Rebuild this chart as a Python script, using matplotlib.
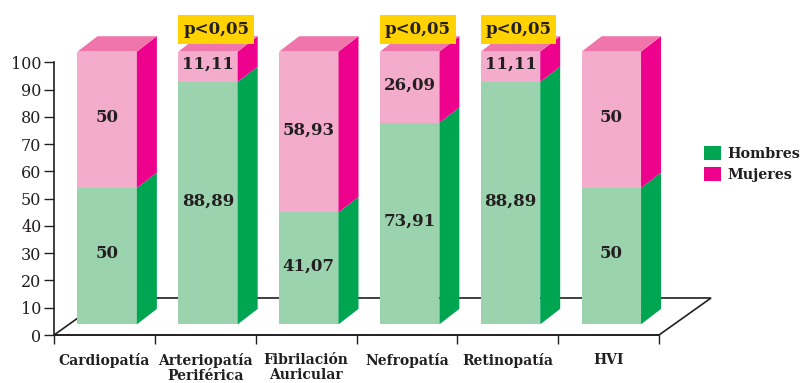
import matplotlib
matplotlib.use("Agg")
import matplotlib.pyplot as plt
from matplotlib.patches import Polygon, Rectangle, Patch

categories = ["Cardiopatía", "Arteriopatía\nPeriférica", "Fibrilación\nAuricular",
              "Nefropatía", "Retinopatía", "HVI"]
hombres = [50, 88.89, 41.07, 73.91, 88.89, 50]
mujeres = [50, 11.11, 58.93, 26.09, 11.11, 50]
significativo = [False, True, False, True, True, False]
yticks = [0, 10, 20, 30, 40, 50, 60, 70, 80, 90, 100]
series_names = ["Hombres", "Mujeres"]
p_text = "p<0,05"

# colours
GREEN_FRONT = "#9bd3ae"
GREEN_SIDE = "#00a551"
PINK_FRONT = "#f4accd"
PINK_SIDE = "#ec008c"
PINK_TOP = "#f075aa"
INK = "#231f20"
YELLOW = "#ffd200"

plt.rcParams["font.family"] = ["DejaVu Serif"]

W, H = 801, 383
fig = plt.figure(figsize=(W / 100, H / 100), dpi=100)
ax = fig.add_axes([54 / W, 48 / H, 605 / W, 272.7 / H])
ax.set_xlim(0, len(categories))
ax.set_ylim(0, 100)

# 3D geometry (data units)
bar_off = 0.233
bar_w = 0.589
base = 3.92
ddx, ddy = 0.198, 5.65        # bar depth
fdx, fdy = 0.516, 13.57       # floor depth

# floor
n = len(categories)
floor = Polygon([(0, 0), (n, 0), (n + fdx, fdy), (fdx, fdy)], closed=True,
                facecolor="white", edgecolor=INK, linewidth=1.2, zorder=1,
                clip_on=False)
ax.add_patch(floor)


def fmt(v):
    if float(v).is_integer():
        return f"{int(v)}"
    return f"{v:.2f}".replace(".", ",")


for i, (h, m, sig) in enumerate(zip(hombres, mujeres, significativo)):
    x0 = i + bar_off
    x1 = x0 + bar_w
    y0 = base
    y1 = base + h
    y2 = y1 + m
    segs = [(y0, y1, GREEN_FRONT, GREEN_SIDE, h), (y1, y2, PINK_FRONT, PINK_SIDE, m)]
    for (ya, yb, cf, cs, v) in segs:
        ax.add_patch(Rectangle((x0, ya), bar_w, yb - ya, facecolor=cf,
                               edgecolor="none", zorder=3, clip_on=False))
        ax.add_patch(Polygon([(x1, ya), (x1 + ddx, ya + ddy), (x1 + ddx, yb + ddy), (x1, yb)],
                             closed=True, facecolor=cs, edgecolor="none",
                             zorder=3, clip_on=False))
        ax.text((x0 + x1) / 2, (ya + yb) / 2 + 0.8, fmt(v), ha="center", va="center",
                fontsize=12, fontweight="bold", color=INK, zorder=5)
    ax.add_patch(Polygon([(x0, y2), (x1, y2), (x1 + ddx, y2 + ddy), (x0 + ddx, y2 + ddy)],
                         closed=True, facecolor=PINK_TOP, edgecolor="none",
                         zorder=3, clip_on=False))
    if sig:
        ax.add_patch(Rectangle((x0, 106.6), 0.75, 10.7, facecolor=YELLOW,
                               edgecolor="none", zorder=6, clip_on=False))
        ax.text(x0 + 0.375, 112.0, p_text, ha="center", va="center",
                fontsize=12, fontweight="bold", color=INK, zorder=7)

# axes styling
for s in ("top", "right"):
    ax.spines[s].set_visible(False)
for s in ("left", "bottom"):
    ax.spines[s].set_color(INK)
    ax.spines[s].set_linewidth(1.2)
    ax.spines[s].set_zorder(2)
ax.patch.set_visible(False)

ax.set_yticks(yticks)
ax.set_yticklabels([str(t) for t in yticks])
ax.tick_params(axis="y", length=7.5, width=1.0, color=INK, labelsize=11.5,
               labelcolor=INK, pad=1.5)
ax.set_xticks(range(n + 1))
ax.set_xticklabels([])
ax.tick_params(axis="x", which="major", length=6.8, width=1.0, color=INK)
ax.set_xticks([i + 0.5 for i in range(n)], minor=True)
ax.set_xticklabels(categories, minor=True, fontsize=10, fontweight="bold",
                   color=INK, linespacing=1.05)
ax.tick_params(axis="x", which="minor", length=0, pad=13)

handles = [Patch(facecolor=GREEN_SIDE, edgecolor="none", label=series_names[0]),
           Patch(facecolor=PINK_SIDE, edgecolor="none", label=series_names[1])]
leg = fig.legend(handles=handles, loc="upper left",
                 bbox_to_anchor=(704 / W, (H - 146) / H), bbox_transform=fig.transFigure,
                 frameon=False, borderpad=0, borderaxespad=0,
                 handlelength=1.16, handleheight=1.16, handletextpad=0.45,
                 labelspacing=0.42, prop={"size": 10.3, "weight": "bold"})
for t in leg.get_texts():
    t.set_color(INK)

fig.savefig("out.png", dpi=100)
